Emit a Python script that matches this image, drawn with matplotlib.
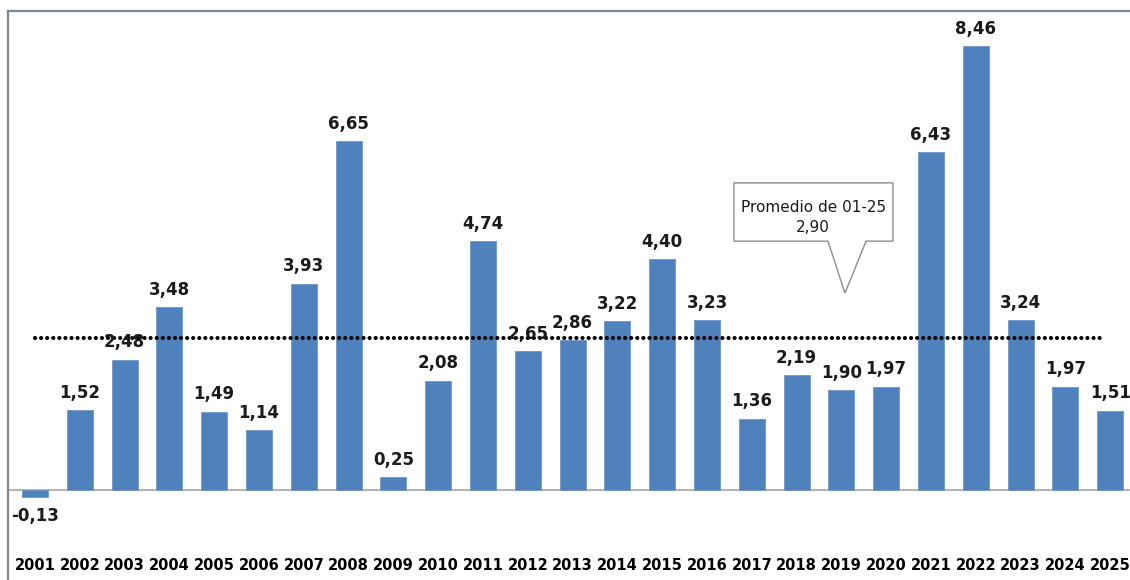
import numpy as np
import matplotlib.pyplot as plt
from matplotlib.patches import Polygon
import matplotlib.transforms as mtransforms

# Values
years = [str(y) for y in range(2001, 2026)]
values = [-0.13, 1.52, 2.48, 3.48, 1.49, 1.14, 3.93, 6.65, 0.25, 2.08,
          4.74, 2.65, 2.86, 3.22, 4.40, 3.23, 1.36, 2.19, 1.90, 1.97,
          6.43, 8.46, 3.24, 1.97, 1.51]
promedio = 2.90
promedio_text = "Promedio de 01-25\n2,90"

bar_color = "#4F81BD"
frame_color = "#7b8793"

fig = plt.figure(figsize=(11.3, 5.8), dpi=100)
W, H = 1130, 580
ax = fig.add_axes([8 / W, 0, 1 - 8 / W, 1 - 11 / H])

x = np.arange(len(years))
ax.bar(x, values, width=0.58, color=bar_color, edgecolor="#6f98c8", linewidth=0.6, zorder=2)

# zero line
ax.axhline(0, color="#a6a6a6", linewidth=1.2, zorder=1)

# average dotted line
ax.plot([x[0], x[-1] - 0.12], [promedio, promedio], color="black", linewidth=3.0,
        linestyle=(0, (0.01, 1.45)), dash_capstyle="round", zorder=3)

# value labels
for xi, v in zip(x, values):
    label = f"{v:.2f}".replace(".", ",")
    if v >= 0:
        ax.annotate(label, (xi, v), xytext=(0, 6), textcoords="offset points",
                    ha="center", va="bottom", fontsize=12, fontweight="bold",
                    color="#1a1a1a", zorder=4)
    else:
        ax.annotate(label, (xi, v), xytext=(0, -7), textcoords="offset points",
                    ha="center", va="top", fontsize=12, fontweight="bold",
                    color="#1a1a1a", zorder=4)

# year labels
trans = mtransforms.blended_transform_factory(ax.transData, ax.transAxes)
for xi, yr in zip(x, years):
    ax.text(xi, 0.026, yr, transform=trans, ha="center", va="center",
            fontsize=10.5, fontweight="bold", color="black")

# callout box
call = [(15.60, 5.85), (19.15, 5.85), (19.15, 4.74), (18.55, 4.74),
        (18.08, 3.75), (17.70, 4.74), (15.60, 4.74)]
ax.add_patch(Polygon(call, closed=True, facecolor="white", edgecolor="#8c8c8c",
                     linewidth=1.0, zorder=5))
ax.text(17.37, 5.19, promedio_text, ha="center", va="center", fontsize=11,
        linespacing=1.35, color="#1a1a1a", zorder=6)

ax.set_xlim(-(35 - 8) / 44.8, (1130 - 35) / 44.8)
ax.set_ylim(-(580 - 490) / 52.5, (490 - 11) / 52.5)
ax.set_xticks([])
ax.set_yticks([])
ax.spines["right"].set_visible(False)
ax.spines["bottom"].set_visible(False)
for s in ["left", "top"]:
    ax.spines[s].set_color(frame_color)
    ax.spines[s].set_linewidth(1.6)

fig.savefig("out.png", dpi=100)
